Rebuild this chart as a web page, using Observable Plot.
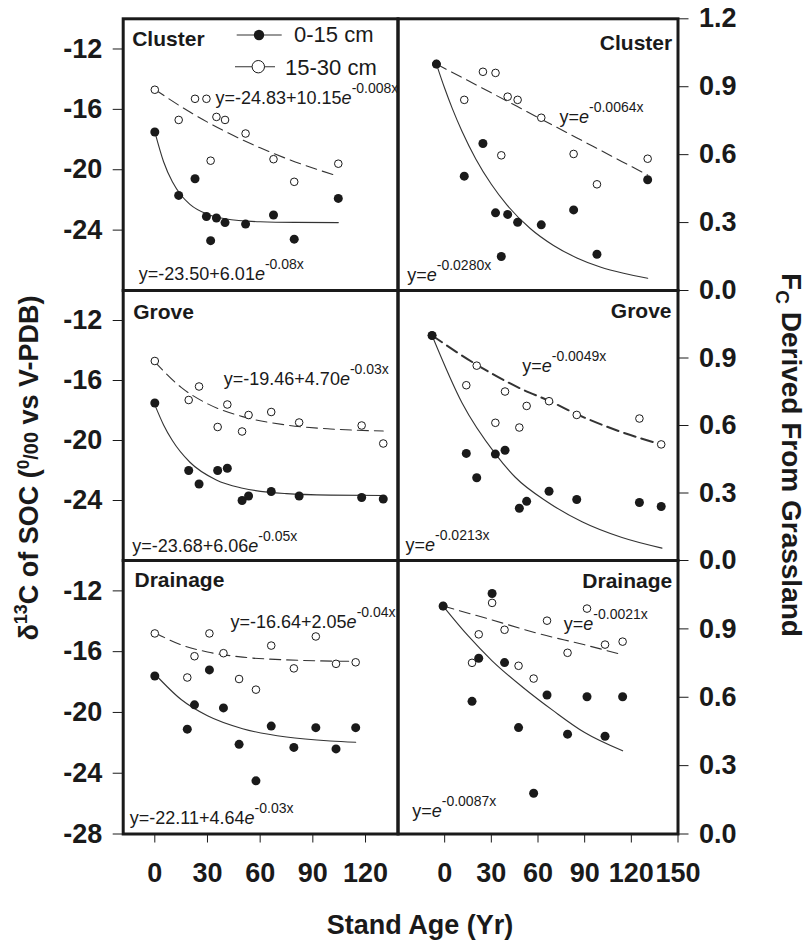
<!DOCTYPE html>
<html>
<head>
<meta charset="utf-8">
<script src="https://cdn.jsdelivr.net/npm/d3@7"></script>
<script src="https://cdn.jsdelivr.net/npm/@observablehq/plot@0.6"></script>
<style>
  body { margin: 0; background: #fff; }
  #chart { width: 808px; height: 947px; }
</style>
</head>
<body>
<div id="chart"></div>
<script>
// ---------------- DATA ----------------
const sites = ["Cluster", "Grove", "Drainage"];
const depths = ["0-15 cm", "15-30 cm"];
const xTicksLeft = [0, 30, 60, 90, 120];
const xTicksRight = [0, 30, 60, 90, 120, 150];
const yTicksD13C = [-12, -16, -20, -24];
const yTicksD13CBottom = [-12, -16, -20, -24, -28];
const yTicksFc = [0, 0.3, 0.6, 0.9];
const yTicksFcTop = [0, 0.3, 0.6, 0.9, 1.2];

// Left column: δ13C of SOC vs stand age
const clusterAgeL = [0, 13.6, 22.9, 29.4, 31.8, 35.1, 40, 51.7, 67.6, 79.4, 104.5];
const clusterD13C_0_15 = [-17.5, -21.7, -20.6, -23.1, -24.7, -23.2, -23.5, -23.6, -23.0, -24.6, -21.9];
const clusterD13C_15_30 = [-14.7, -16.7, -15.3, -15.3, -19.4, -16.5, -16.7, -17.6, -19.3, -20.8, -19.6];

const groveAgeL = [0, 19.3, 25.2, 35.8, 41.3, 49.7, 53.4, 66.3, 82.2, 117.8, 130.1];
const groveD13C_0_15 = [-17.5, -22.0, -22.9, -22.0, -21.85, -24.0, -23.7, -23.4, -23.7, -23.8, -23.9];
const groveD13C_15_30 = [-14.7, -17.3, -16.4, -19.1, -17.6, -19.4, -18.3, -18.1, -18.8, -19.0, -20.2];

const drainAgeL = [0, 18.5, 22.6, 31.1, 39.1, 48, 57.6, 66.3, 79.2, 91.7, 103.2, 114.4];
const drainD13C_0_15 = [-17.6, -21.1, -19.5, -17.2, -19.7, -22.1, -24.5, -20.9, -22.3, -21.0, -22.4, -21.0];
const drainD13C_15_30 = [-14.8, -17.7, -16.3, -14.8, -16.1, -17.8, -18.5, -15.6, -17.1, -15.0, -16.8, -16.7];

// Fitted curves, left column
const clusterFitAgeL_0_15 = [0, 5, 10, 15, 20, 30, 40, 60, 80, 104.5];
const clusterFitD13C_0_15 = [-17.49, -19.47, -20.80, -21.69, -22.29, -22.95, -23.25, -23.45, -23.49, -23.50];
const clusterFitAgeL_15_30 = [0, 20, 40, 60, 80, 104.5];
const clusterFitD13C_15_30 = [-14.68, -16.18, -17.46, -18.55, -19.48, -20.43];

const groveFitAgeL_0_15 = [0, 5, 10, 20, 35, 50, 75, 100, 130.1];
const groveFitD13C_0_15 = [-17.62, -18.96, -20.0, -21.45, -22.63, -23.18, -23.54, -23.64, -23.67];
const groveFitAgeL_15_30 = [0, 15, 30, 50, 75, 100, 130.1];
const groveFitD13C_15_30 = [-14.76, -16.46, -17.55, -18.41, -18.97, -19.23, -19.37];

const drainFitAgeL_0_15 = [0, 15, 30, 50, 75, 100, 114.4];
const drainFitD13C_0_15 = [-17.47, -19.15, -20.22, -21.07, -21.62, -21.88, -21.96];
const drainFitAgeL_15_30 = [0, 15, 30, 50, 75, 114.4];
const drainFitD13C_15_30 = [-14.75, -15.55, -16.02, -16.36, -16.54, -16.64];

// Right column: Fc derived from grassland vs stand age
const clusterAgeR = [-5.3, 12.6, 24.6, 32.7, 36.4, 40.5, 46.9, 62.1, 82.9, 97.9, 130.5];
const clusterFc_0_15 = [1.0, 0.505, 0.649, 0.343, 0.15, 0.336, 0.301, 0.29, 0.356, 0.16, 0.489];
const clusterFc_15_30 = [1.0, 0.842, 0.966, 0.961, 0.597, 0.856, 0.842, 0.763, 0.603, 0.469, 0.582];

const groveAgeR = [-8.1, 13.9, 20.6, 32.6, 38.8, 48, 52.7, 67.1, 84.9, 125.2, 139.2];
const groveFc_0_15 = [1.0, 0.476, 0.368, 0.473, 0.49, 0.232, 0.263, 0.308, 0.271, 0.258, 0.24];
const groveFc_15_30 = [1.0, 0.779, 0.866, 0.612, 0.751, 0.591, 0.687, 0.708, 0.647, 0.631, 0.516];

const drainAgeR = [-1, 17.6, 21.9, 30.5, 38.5, 47.5, 57.2, 65.8, 79, 91.5, 103.1, 114.4];
const drainFc_0_15 = [1.0, 0.582, 0.771, 1.055, 0.752, 0.467, 0.179, 0.61, 0.438, 0.602, 0.429, 0.602];
const drainFc_15_30 = [1.0, 0.751, 0.876, 1.014, 0.896, 0.738, 0.682, 0.936, 0.795, 0.989, 0.831, 0.844];

// Fitted curves, right column
const clusterFitAgeR_0_15 = [-5.3, 0, 5, 11.2, 20, 30, 40, 55, 70, 85, 100, 115, 130.5];
const clusterFitFc_0_15 = [1.0, 0.893, 0.802, 0.702, 0.581, 0.469, 0.378, 0.274, 0.199, 0.144, 0.104, 0.076, 0.054];
const clusterFitAgeR_15_30 = [-5.3, 30, 62, 95, 130.5];
const clusterFitFc_15_30 = [1.0, 0.873, 0.757, 0.638, 0.51];

const groveFitAgeR_0_15 = [-8.1, 11.2, 32.6, 45.4, 66.8, 88.3, 114, 139.7];
const groveFitFc_0_15 = [1.0, 0.70, 0.474, 0.37, 0.257, 0.172, 0.102, 0.055];
const groveFitAgeR_15_30 = [-8.1, 20.6, 50, 67, 85, 110, 139.1];
const groveFitFc_15_30 = [1.0, 0.87, 0.76, 0.71, 0.65, 0.58, 0.516];

const drainFitAgeR_0_15 = [-1, 15, 30.5, 50, 70, 90, 114.4];
const drainFitFc_0_15 = [1.0, 0.87, 0.76, 0.645, 0.54, 0.445, 0.365];
const drainFitAgeR_15_30 = [-1, 30, 60, 90, 114.6];
const drainFitFc_15_30 = [1.0, 0.94, 0.88, 0.83, 0.786];

// Equation labels
const eqLeft_15_30 = ["y=-24.83+10.15e^-0.008x", "y=-19.46+4.70e^-0.03x", "y=-16.64+2.05e^-0.04x"];
const eqLeft_0_15 = ["y=-23.50+6.01e^-0.08x", "y=-23.68+6.06e^-0.05x", "y=-22.11+4.64e^-0.03x"];
const eqRight_15_30 = ["y=e^-0.0064x", "y=e^-0.0049x", "y=e^-0.0021x"];
const eqRight_0_15 = ["y=e^-0.0280x", "y=e^-0.0213x", "y=e^-0.0087x"];

// ---------------- LAYOUT ----------------
const W = 808, H = 947;
const FONT = "'Liberation Sans', Arial, Helvetica, sans-serif";
const ink = "#1a1a1a";
const colX = [[122.7, 397.5], [397.5, 677.5]];
const rowY = [[18.3, 290], [290, 560], [560, 833.5]];

const rows = (xs, ys) => xs.map((x, i) => ({x, y: ys[i]}));

const panels = [
  {row: 0, col: 0, title: sites[0], filled: rows(clusterAgeL, clusterD13C_0_15), open: rows(clusterAgeL, clusterD13C_15_30),
   fitF: rows(clusterFitAgeL_0_15, clusterFitD13C_0_15), fitO: rows(clusterFitAgeL_15_30, clusterFitD13C_15_30),
   eqO: eqLeft_15_30[0], eqF: eqLeft_0_15[0],
   t: [9, 27.3], o: [92.3, 84.7], f: [15.6, -10.7]},
  {row: 0, col: 1, title: sites[0], filled: rows(clusterAgeR, clusterFc_0_15), open: rows(clusterAgeR, clusterFc_15_30),
   fitF: rows(clusterFitAgeR_0_15, clusterFitFc_0_15), fitO: rows(clusterFitAgeR_15_30, clusterFitFc_15_30),
   eqO: eqRight_15_30[0], eqF: eqRight_0_15[0],
   t: [-5.8, 31], o: [161.5, 104.4], f: [9.2, -10]},
  {row: 1, col: 0, title: sites[1], filled: rows(groveAgeL, groveD13C_0_15), open: rows(groveAgeL, groveD13C_15_30),
   fitF: rows(groveFitAgeL_0_15, groveFitD13C_0_15), fitO: rows(groveFitAgeL_15_30, groveFitD13C_15_30),
   eqO: eqLeft_15_30[1], eqF: eqLeft_0_15[1],
   t: [10, 28.3], o: [100.6, 94], f: [9, -8.3]},
  {row: 1, col: 1, title: sites[1], filled: rows(groveAgeR, groveFc_0_15), open: rows(groveAgeR, groveFc_15_30),
   fitF: rows(groveFitAgeR_0_15, groveFitFc_0_15), fitO: rows(groveFitAgeR_15_30, groveFitFc_15_30),
   eqO: eqRight_15_30[1], eqF: eqRight_0_15[1], dashW: 2,
   t: [-6.5, 27.3], o: [124.2, 81.7], f: [7.5, -10]},
  {row: 2, col: 0, title: sites[2], filled: rows(drainAgeL, drainD13C_0_15), open: rows(drainAgeL, drainD13C_15_30),
   fitF: rows(drainFitAgeL_0_15, drainFitD13C_0_15), fitO: rows(drainFitAgeL_15_30, drainFitD13C_15_30),
   eqO: eqLeft_15_30[2], eqF: eqLeft_0_15[2],
   t: [11.3, 26], o: [107.3, 67.3], f: [6.6, -10.2]},
  {row: 2, col: 1, title: sites[2], filled: rows(drainAgeR, drainFc_0_15), open: rows(drainAgeR, drainFc_15_30),
   fitF: rows(drainFitAgeR_0_15, drainFitFc_0_15), fitO: rows(drainFitAgeR_15_30, drainFitFc_15_30),
   eqO: eqRight_15_30[2], eqF: eqRight_0_15[2],
   t: [-5.8, 27.3], o: [165.8, 69.3], f: [14.2, -16.8]}
];

function makePanel(p) {
  const [x0, x1] = colX[p.col], [y0, y1] = rowY[p.row];
  const left = p.col === 0;
  const eq = {fontFamily: FONT, fontSize: 18, fontWeight: "normal", fill: ink, lineAnchor: "bottom", textAnchor: "start"};
  const yTicks = left ? (p.row === 2 ? yTicksD13CBottom : yTicksD13C) : (p.row === 0 ? yTicksFcTop : yTicksFc);
  const svg = Plot.plot({
    width: W, height: H,
    marginLeft: x0, marginRight: W - x1, marginTop: y0, marginBottom: H - y1,
    style: {background: "transparent", overflow: "visible", fontFamily: FONT, fontSize: "27px", fontWeight: "bold", color: ink},
    x: {domain: left ? [-18, 138.5] : [-30, 150], axis: p.row === 2 ? "bottom" : null,
        ticks: left ? xTicksLeft : xTicksRight, tickSize: 9, tickPadding: 20, tickFormat: d => String(d), label: null},
    y: {domain: left ? [-28, -10] : [0, 1.2], axis: left ? "left" : "right", ticks: yTicks,
        tickSize: 10, tickPadding: 11, tickFormat: left ? (d => String(d)) : (d => d.toFixed(1)), label: null},
    marks: [
      Plot.line(p.fitO, {x: "x", y: "y", stroke: "#333", strokeWidth: p.dashW || 1.1, strokeDasharray: p.dashW ? "12,6" : "11,6", curve: "monotone-x"}),
      Plot.line(p.fitF, {x: "x", y: "y", stroke: "#333", strokeWidth: 1.1, curve: "monotone-x"}),
      Plot.dot(p.open, {x: "x", y: "y", r: 3.8, fill: "white", stroke: ink, strokeWidth: 1}),
      Plot.dot(p.filled, {x: "x", y: "y", r: 4.5, fill: ink}),
      Plot.text([p.title], {text: d => d, frameAnchor: left ? "top-left" : "top-right", textAnchor: left ? "start" : "end",
        lineAnchor: "bottom", dx: p.t[0], dy: p.t[1], fontFamily: FONT, fontSize: 21, fontWeight: "bold", fill: ink}),
      Plot.text([p.eqO], {...eq, text: d => d, frameAnchor: "top-left", dx: p.o[0], dy: p.o[1]}),
      Plot.text([p.eqF], {...eq, text: d => d, frameAnchor: "bottom-left", dx: p.f[0], dy: p.f[1]}),
      Plot.frame({stroke: ink, strokeWidth: 3})
    ]
  });
  // rich text for equations: italic e and superscript exponent
  d3.select(svg).selectAll("text").each(function () {
    const s = this.textContent;
    if (!s.includes("e^")) return;
    const [pre, sup] = s.split("e^");
    const t = d3.select(this);
    t.text(null);
    t.append("tspan").text(pre);
    t.append("tspan").attr("font-style", "italic").text("e");
    t.append("tspan").attr("font-size", 14).attr("dy", -11).text(sup);
  });
  return svg;
}

const root = d3.create("svg").attr("width", W).attr("height", H).attr("viewBox", `0 0 ${W} ${H}`)
  .style("display", "block").style("background", "white");

for (const p of panels) {
  const s = makePanel(p);
  s.setAttribute("x", 0);
  s.setAttribute("y", 0);
  root.node().appendChild(s);
}

// Legend (top-left panel)
const lg = root.append("g").attr("font-family", FONT).attr("fill", ink);
lg.append("line").attr("x1", 236.7).attr("x2", 281.7).attr("y1", 35).attr("y2", 35).attr("stroke", "#333").attr("stroke-width", 1.1);
lg.append("circle").attr("cx", 259).attr("cy", 35).attr("r", 5.2).attr("fill", ink);
lg.append("text").attr("x", 294).attr("y", 42).attr("font-size", 22).text(depths[0]);
lg.append("line").attr("x1", 235).attr("x2", 280).attr("y1", 66.7).attr("y2", 66.7).attr("stroke", "#333").attr("stroke-width", 1.1).attr("stroke-dasharray", "17,6");
lg.append("circle").attr("cx", 258.3).attr("cy", 66.7).attr("r", 6.2).attr("fill", "white").attr("stroke", ink).attr("stroke-width", 1);
lg.append("text").attr("x", 285).attr("y", 75).attr("font-size", 22).text(depths[1]);

// Axis titles
root.append("text").attr("x", 420).attr("y", 934).attr("text-anchor", "middle")
  .attr("font-family", FONT).attr("font-weight", "bold").attr("font-size", 27).attr("fill", ink).text("Stand Age (Yr)");

const lt = root.append("text").attr("transform", "translate(38,468) rotate(-90)").attr("text-anchor", "middle")
  .attr("font-family", FONT).attr("font-weight", "bold").attr("font-size", 27).attr("fill", ink);
lt.append("tspan").text("δ");
lt.append("tspan").attr("font-size", 18).attr("dy", -11).text("13");
lt.append("tspan").attr("dy", 11).text("C of SOC (");
lt.append("tspan").attr("font-size", 17).attr("dy", -9).text("0");
lt.append("tspan").attr("font-size", 20).attr("dy", 9).text("/00");
lt.append("tspan").text(" vs V-PDB)");

// right title (reads top to bottom; glyph tops face right)
const rt = root.append("text").attr("transform", "translate(782,455) rotate(90)").attr("text-anchor", "middle")
  .attr("font-family", FONT).attr("font-weight", "bold").attr("font-size", 28).attr("fill", ink);
rt.append("tspan").text("F");
rt.append("tspan").attr("font-size", 19).attr("dy", 6).text("C");
rt.append("tspan").attr("dy", -6).text(" Derived From Grassland");

document.getElementById("chart").appendChild(root.node());
</script>
</body>
</html>
